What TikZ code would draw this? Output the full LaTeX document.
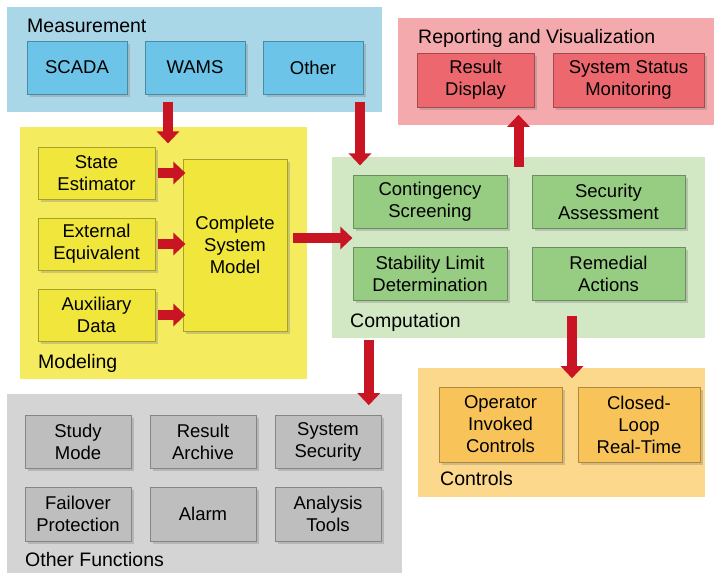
\documentclass[tikz,border=0pt]{standalone}
\usepackage{fontspec}
\setmainfont{Liberation Sans}
\usepackage{tikz}
\usetikzlibrary{arrows.meta}
\usetikzlibrary{shadows}
\definecolor{measbg}{HTML}{AAD7E8}
\definecolor{measbox}{HTML}{6CC4E8}
\definecolor{repbg}{HTML}{F4AAAC}
\definecolor{repbox}{HTML}{EC686E}
\definecolor{modbg}{HTML}{F5EB5F}
\definecolor{modbox}{HTML}{F0E63C}
\definecolor{compbg}{HTML}{D2E8C4}
\definecolor{compbox}{HTML}{96CD82}
\definecolor{ctrlbg}{HTML}{FCD88C}
\definecolor{ctrlbox}{HTML}{F8C45A}
\definecolor{othbg}{HTML}{D4D4D4}
\definecolor{othbox}{HTML}{BEBEBE}
\definecolor{arrowred}{HTML}{C81423}

\begin{document}
\begin{tikzpicture}[x=1pt,y=-1pt,
    region/.style={fill=#1, inner sep=0pt},
    box/.style={fill=#1, draw=#1!70!black, line width=0.8pt, align=center, inner sep=0pt,
      font=\fontsize{18.5}{22}\selectfont,
      drop shadow={shadow xshift=3pt,shadow yshift=-3pt,opacity=0.35}},
    title/.style={anchor=base west, inner sep=0pt, font=\fontsize{19.5}{22}\selectfont},
    flow/.style={draw=arrowred, line width=10pt, -{Triangle[length=12pt,width=22pt]}}]
    \useasboundingbox (0,0) rectangle (714,573);
    % regions
    \node[region=measbg, minimum width=375pt, minimum height=105pt] (measbg) at (194.5,59.5) {};
    \node[region=repbg, minimum width=316pt, minimum height=107pt] (repbg) at (556,71.5) {};
    \node[region=modbg, minimum width=287pt, minimum height=252pt] (modbg) at (163.5,253) {};
    \node[region=compbg, minimum width=373pt, minimum height=181pt] (compbg) at (518.5,247.5) {};
    \node[region=ctrlbg, minimum width=287pt, minimum height=129pt] (ctrlbg) at (561.5,432.5) {};
    \node[region=othbg, minimum width=395pt, minimum height=179pt] (othbg) at (204.5,483.5) {};
    \node[title] (meastitle) at (27,32) {Measurement};
    \node[title] (reptitle) at (418,43) {Reporting and Visualization};
    \node[title] (modtitle) at (38,368) {Modeling};
    \node[title] (comptitle) at (350,327) {Computation};
    \node[title] (ctrltitle) at (440,485) {Controls};
    \node[title] (othtitle) at (25,566) {Other Functions};
    % measurement
    \node[box=measbox, minimum width=100pt, minimum height=53pt] (scada) at (77,67.5) {SCADA};
    \node[box=measbox, minimum width=100pt, minimum height=53pt] (wams) at (195,67.5) {WAMS};
    \node[box=measbox, minimum width=100pt, minimum height=53pt] (otherm) at (313,67.5) {Other};
    % reporting
    \node[box=repbox, minimum width=117pt, minimum height=54pt] (rd) at (475.5,80) {Result\\Display};
    \node[box=repbox, minimum width=151pt, minimum height=54pt] (ssm) at (628.5,80) {System Status\\Monitoring};
    % modeling
    \node[box=modbox, minimum width=117pt, minimum height=52pt] (se) at (96.5,173) {State\\Estimator};
    \node[box=modbox, minimum width=117pt, minimum height=52pt] (ee) at (96.5,244) {External\\Equivalent};
    \node[box=modbox, minimum width=117pt, minimum height=52pt] (aux) at (96.5,315) {Auxiliary\\Data};
    \node[box=modbox, minimum width=104pt, minimum height=172pt] (csm) at (235,245) {Complete\\System\\Model};
    % computation
    \node[box=compbox, minimum width=154pt, minimum height=53pt] (cs) at (430,201.5) {Contingency\\Screening};
    \node[box=compbox, minimum width=153pt, minimum height=53pt] (sa) at (608.5,201.5) {Security\\Assessment};
    \node[box=compbox, minimum width=154pt, minimum height=53pt] (sl) at (430,273.5) {Stability Limit\\Determination};
    \node[box=compbox, minimum width=153pt, minimum height=53pt] (ra) at (608.5,273.5) {Remedial\\Actions};
    % controls
    \node[box=ctrlbox, minimum width=123pt, minimum height=75pt] (oic) at (500.5,424.5) {Operator\\Invoked\\Controls};
    \node[box=ctrlbox, minimum width=122pt, minimum height=75pt] (clrt) at (639,424.5) {Closed-\\Loop\\Real-Time};
    % other functions
    \node[box=othbox, minimum width=106pt, minimum height=53pt] (sm) at (78,441.5) {Study\\Mode};
    \node[box=othbox, minimum width=106pt, minimum height=53pt] (rarch) at (203,441.5) {Result\\Archive};
    \node[box=othbox, minimum width=106pt, minimum height=53pt] (ss) at (328,441.5) {System\\Security};
    \node[box=othbox, minimum width=106pt, minimum height=54pt] (fp) at (78,514) {Failover\\Protection};
    \node[box=othbox, minimum width=106pt, minimum height=54pt] (alarm) at (203,514) {Alarm};
    \node[box=othbox, minimum width=106pt, minimum height=54pt] (at) at (328,514) {Analysis\\Tools};
    % arrows
    \draw[flow] (wams.south) ++(-27,8) -- ++(0,41);
    \draw[flow] (otherm.south) ++(47,8) -- ++(0,63);
    \draw[flow] (se.east) ++(3,0) -- ++(27,0);
    \draw[flow] (ee.east) ++(3,0) -- ++(27,0);
    \draw[flow] (aux.east) ++(3,0) -- ++(27,0);
    \draw[flow] (csm.east) ++(6,-7) -- ++(59,0);
    \draw[flow] (compbg.north) ++(0,10) -- ++(0,-52);
    \draw[flow] (compbg.south west) ++(37,2) -- ++(0,65);
    \draw[flow] (compbg.south) ++(53.5,-22) -- ++(0,62);
\end{tikzpicture}
\end{document}
